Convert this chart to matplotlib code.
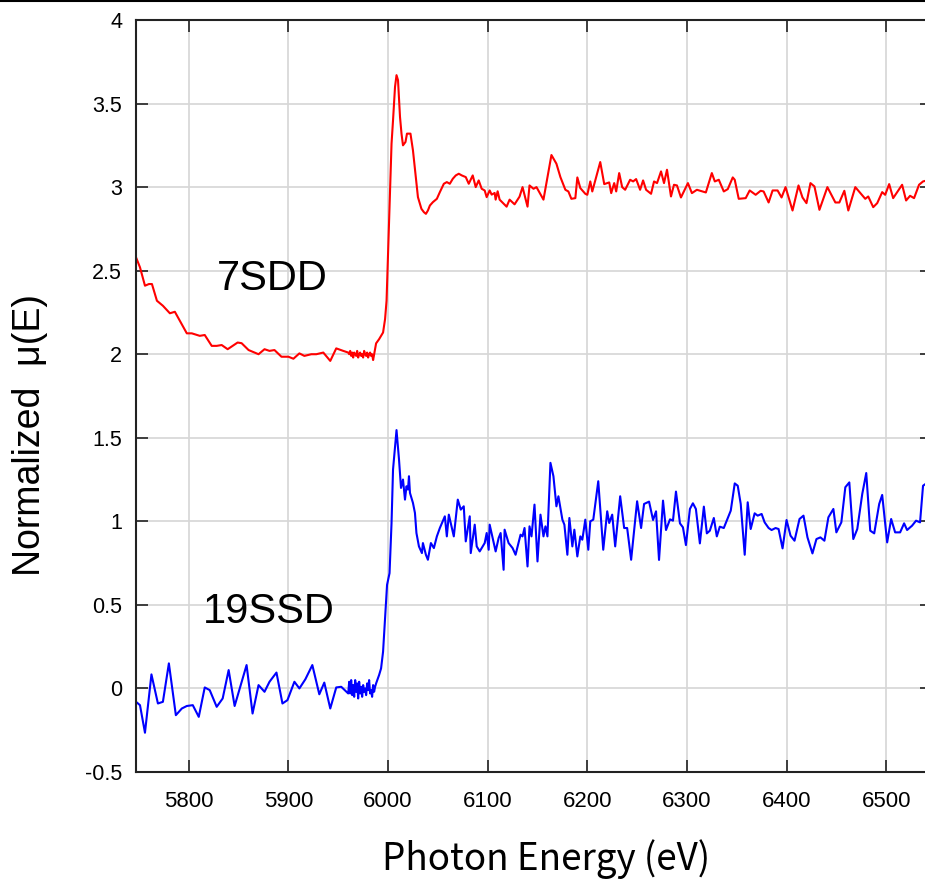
import matplotlib
matplotlib.use("Agg")
import matplotlib.pyplot as plt

# 7SDD spectrum (red)
red_energy = [5747, 5749, 5751, 5756, 5760, 5763, 5768, 5774, 5781, 5786,
              5798, 5803, 5811, 5816, 5823, 5828, 5833, 5839, 5849, 5853,
              5860, 5870, 5876, 5881, 5886, 5893, 5900, 5905, 5911, 5916,
              5923, 5928, 5935, 5942, 5948, 5955, 5960, 5961, 5962, 5963,
              5964, 5965, 5966, 5967, 5968, 5969, 5970, 5971, 5972, 5973,
              5974, 5975, 5976, 5977, 5978, 5979, 5980, 5981, 5982, 5983,
              5984, 5985, 5988, 5991, 5993, 5995, 5997, 5998.5, 6001, 6003.5,
              6005, 6007, 6008.5, 6010, 6012, 6013.5, 6015, 6017.5, 6019, 6022.5,
              6025, 6030, 6033.5, 6036, 6038, 6040, 6042, 6045, 6049, 6052,
              6056, 6059, 6062, 6065, 6068, 6071, 6074, 6078, 6081, 6085,
              6088, 6091, 6094, 6097, 6099, 6102, 6104, 6107, 6108, 6110,
              6112, 6119, 6122, 6127, 6132, 6135, 6140, 6142, 6146, 6149,
              6156, 6164, 6169, 6173, 6178, 6181, 6184, 6188, 6190, 6193,
              6198, 6200, 6203, 6205, 6213, 6217, 6222, 6224, 6227, 6229,
              6232, 6235, 6238, 6243, 6246, 6249, 6253, 6256, 6259, 6264,
              6267, 6270, 6274, 6277, 6280, 6284, 6287, 6290, 6294, 6301,
              6305, 6310, 6319, 6325, 6328, 6332, 6337, 6341, 6346, 6348,
              6352, 6359, 6363, 6369, 6374, 6377, 6382, 6386, 6391, 6395,
              6399, 6406, 6412, 6416, 6420, 6424, 6428, 6433, 6441, 6449,
              6453, 6458, 6462, 6469, 6479, 6482, 6487, 6491, 6496, 6499,
              6503, 6507, 6513, 6516, 6520, 6524, 6528, 6533, 6537, 6541]
red_mu = [2.58, 2.55, 2.52, 2.41, 2.42, 2.42, 2.32, 2.29, 2.245, 2.254,
          2.125, 2.125, 2.11, 2.115, 2.05, 2.05, 2.055, 2.03, 2.07, 2.066,
          2.025, 2.0, 2.03, 2.02, 2.025, 1.985, 1.985, 1.973, 2.005, 1.99,
          2.0, 2.0, 2.01, 1.96, 2.035, 2.02, 2.01, 2.00, 2.02, 1.99,
          2.01, 1.98, 2.01, 2.00, 1.99, 2.02, 1.98, 2.00, 2.01, 1.99,
          2.00, 1.98, 2.02, 2.00, 1.99, 2.01, 1.98, 2.00, 2.01, 1.99,
          2.00, 1.965, 2.065, 2.09, 2.11, 2.13, 2.21, 2.32, 2.8, 3.26,
          3.40, 3.6, 3.67, 3.64, 3.42, 3.32, 3.25, 3.27, 3.32, 3.32,
          3.22, 2.94, 2.87, 2.85, 2.84, 2.86, 2.89, 2.91, 2.93, 2.97,
          3.02, 3.03, 3.02, 3.05, 3.07, 3.08, 3.07, 3.06, 3.02, 3.07,
          3.0, 3.04, 2.99, 2.98, 2.94, 2.98, 2.955, 2.965, 2.925, 2.975,
          2.925, 2.883, 2.925, 2.897, 2.943, 3.0, 2.883, 3.01, 2.99, 3.0,
          2.925, 3.192, 3.14, 3.06, 2.984, 2.974, 2.93, 2.934, 3.058, 2.994,
          2.96, 2.954, 3.034, 2.974, 3.15, 3.018, 3.028, 2.964, 3.024, 2.974,
          3.084, 3.0, 2.984, 3.044, 3.034, 3.048, 2.984, 3.04, 2.984, 2.96,
          3.034, 3.024, 3.094, 3.024, 3.104, 2.944, 3.014, 3.01, 2.938, 3.024,
          2.964, 2.984, 2.968, 3.084, 3.034, 3.044, 2.974, 2.988, 3.058, 3.044,
          2.93, 2.934, 2.98, 2.954, 2.978, 2.974, 2.908, 2.98, 2.98, 2.938,
          3.0, 2.86, 3.01, 2.938, 2.904, 3.024, 3.004, 2.864, 3.0, 2.908,
          2.908, 2.978, 2.86, 3.0, 2.93, 2.944, 2.88, 2.904, 2.97, 2.954,
          3.018, 2.934, 2.988, 3.014, 2.92, 2.948, 2.934, 3.014, 3.034, 3.04]

# 19SSD spectrum (blue)
blue_energy = [5747, 5751, 5756, 5762.5, 5769, 5774, 5780, 5787, 5793, 5798,
               5804, 5810, 5816, 5821, 5828, 5834, 5840, 5846, 5858, 5864,
               5870, 5876, 5881, 5888, 5894, 5899, 5906, 5911, 5917, 5924,
               5931, 5936, 5942, 5948, 5953, 5960, 5961, 5962, 5963, 5964,
               5965, 5966, 5967, 5968, 5969, 5970, 5971, 5972, 5973, 5974,
               5975, 5976, 5977, 5978, 5979, 5980, 5981, 5982, 5983, 5984,
               5985, 5986, 5987, 5988, 5991, 5993, 5995, 5996, 5998, 5999,
               6001.5, 6003.5, 6005, 6008.5, 6011, 6013, 6015, 6017, 6018.5, 6020,
               6021, 6022, 6025, 6027, 6028.5, 6031, 6034, 6035, 6038, 6040,
               6043, 6046, 6049, 6052, 6057, 6059, 6061, 6066, 6070, 6073,
               6076, 6078, 6082, 6083, 6087, 6089, 6092, 6097, 6099, 6101,
               6102, 6108, 6111, 6113, 6116, 6117, 6121, 6125, 6128, 6133,
               6135, 6137, 6140, 6142, 6144, 6147, 6150, 6153, 6156, 6158,
               6160, 6163, 6166, 6169, 6171, 6175, 6177, 6180, 6182, 6185,
               6187, 6190, 6193, 6195, 6198, 6201, 6203, 6206, 6211, 6216,
               6220, 6222, 6225, 6228, 6233, 6237, 6240, 6244, 6250, 6254,
               6257, 6262, 6266, 6269, 6272, 6276, 6279, 6283, 6286, 6289,
               6293, 6296, 6299, 6303, 6306, 6309, 6313, 6317, 6320, 6323,
               6327, 6330, 6333, 6337, 6340, 6344, 6348, 6351, 6354, 6358,
               6361, 6364, 6368, 6371, 6375, 6378, 6382, 6385, 6389, 6392,
               6396, 6400, 6404, 6408, 6413, 6417, 6421, 6426, 6430, 6434,
               6438, 6442, 6447, 6450, 6455, 6459, 6463, 6467, 6471, 6476,
               6480, 6484, 6488, 6493, 6496, 6501, 6505, 6509, 6514, 6518,
               6521, 6526, 6530, 6534, 6537, 6541]
blue_mu = [-0.08, -0.1, -0.265, 0.084, -0.09, -0.08, 0.15, -0.16, -0.12, -0.105,
           -0.1, -0.17, 0.006, -0.01, -0.11, -0.06, 0.11, -0.105, 0.14, -0.15,
           0.02, -0.02, 0.04, 0.095, -0.09, -0.07, 0.04, 0.0, 0.055, 0.14,
           -0.035, 0.035, -0.12, 0.006, 0.01, -0.03, 0.04, -0.03, 0.05, -0.04,
           0.02, -0.05, 0.05, -0.02, 0.03, -0.06, 0.04, -0.03, 0.01, -0.05,
           0.02, -0.02, 0.00, -0.04, 0.03, -0.01, 0.05, -0.03, -0.01, -0.05,
           0.02, -0.02, 0.01, 0.03, 0.08, 0.12, 0.22, 0.32, 0.53, 0.62,
           0.69, 0.99, 1.31, 1.546, 1.37, 1.2, 1.25, 1.13, 1.21, 1.19,
           1.27, 1.17, 1.11, 1.05, 0.93, 0.85, 0.81, 0.87, 0.80, 0.77,
           0.87, 0.84, 0.91, 0.96, 1.03, 0.91, 1.04, 0.91, 1.13, 1.07,
           1.09, 0.88, 1.03, 0.81, 0.98, 0.85, 0.82, 0.87, 0.93, 0.83,
           0.98, 0.82, 0.90, 0.93, 0.71, 0.95, 0.87, 0.84, 0.80, 0.92,
           0.91, 0.96, 0.73, 0.97, 0.91, 1.1, 0.76, 1.04, 0.91, 0.97,
           0.91, 1.35, 1.27, 1.09, 1.15, 1.01, 0.98, 0.80, 1.02, 0.85,
           0.95, 0.79, 0.91, 0.89, 1.01, 0.83, 1.0, 1.01, 1.24, 0.83,
           1.06, 0.99, 1.04, 0.85, 1.15, 0.96, 0.96, 0.77, 1.12, 0.96,
           1.104, 1.118, 1.008, 1.06, 0.769, 1.124, 0.948, 1.012, 1.004, 1.178,
           0.988, 0.964, 0.858, 1.074, 1.108, 1.074, 0.868, 1.088, 0.928, 0.944,
           1.02, 0.91, 0.968, 0.96, 1.004, 1.064, 1.227, 1.213, 1.104, 0.8,
           1.114, 0.954, 1.048, 1.034, 1.044, 0.994, 0.96, 0.948, 0.96, 0.954,
           0.838, 1.008, 0.914, 0.884, 1.014, 1.034, 0.904, 0.808, 0.894, 0.904,
           0.884, 1.024, 1.074, 0.934, 0.994, 1.204, 1.233, 0.894, 0.954, 1.164,
           1.289, 0.944, 0.928, 1.104, 1.158, 0.874, 1.014, 0.934, 0.934, 0.988,
           0.948, 0.974, 1.004, 0.994, 1.213, 1.23]

x_ticks = [5800, 5900, 6000, 6100, 6200, 6300, 6400, 6500]
y_ticks = [-0.5, 0, 0.5, 1, 1.5, 2, 2.5, 3, 3.5, 4]
y_tick_labels = ['-0.5', '0', '0.5', '1', '1.5', '2', '2.5', '3', '3.5', '4']

assert len(red_energy) == len(red_mu)
assert len(blue_energy) == len(blue_mu)

fig = plt.figure(figsize=(9.25, 8.81), dpi=100)
ax = fig.add_axes([136 / 925, 109 / 881, 796 / 925, 752 / 881])

ax.plot(red_energy, red_mu, color='#ff0000', lw=1.5)
ax.plot(blue_energy, blue_mu, color='#0000ff', lw=1.5)

ax.set_xlim(5747, 6546)
ax.set_ylim(-0.5, 4)
ax.set_xticks(x_ticks)
ax.set_xticklabels([str(t) for t in x_ticks], fontfamily='Liberation Sans', fontsize=16)
ax.set_yticks(y_ticks)
ax.set_yticklabels(y_tick_labels, fontfamily='Liberation Sans', fontsize=15.5)
ax.tick_params(axis='both', direction='in', length=8.5, width=1.2, color='#222222',
               top=True, right=True)
ax.tick_params(axis='x', pad=14)
ax.tick_params(axis='y', pad=10)
ax.grid(True, color='#d6d6d6', lw=1.2)
ax.set_axisbelow(True)
for s in ax.spines.values():
    s.set_linewidth(1.5)
    s.set_color('#222222')

ax.text(5828, 2.385, '7SDD', fontfamily='Liberation Sans', fontsize=30,
        ha='left', va='baseline')
ax.text(5814, 0.39, '19SSD', fontfamily='Liberation Sans', fontsize=30,
        ha='left', va='baseline')

fig.text(546 / 925, 11 / 881, 'Photon Energy (eV)', fontfamily='Noto Sans CJK JP',
         fontsize=26.5, ha='center', va='baseline')
fig.text(30 / 925, (881 - 435) / 881, 'Normalized  \u03bc(E)', fontfamily='Liberation Sans',
         fontsize=27, rotation=90, ha='center', va='center')

# thin frame line along the top of the picture
fig.add_artist(plt.Line2D([0, 1], [0.999, 0.999], transform=fig.transFigure,
                          color='black', lw=1.5))

fig.savefig('out.png', dpi=100)
